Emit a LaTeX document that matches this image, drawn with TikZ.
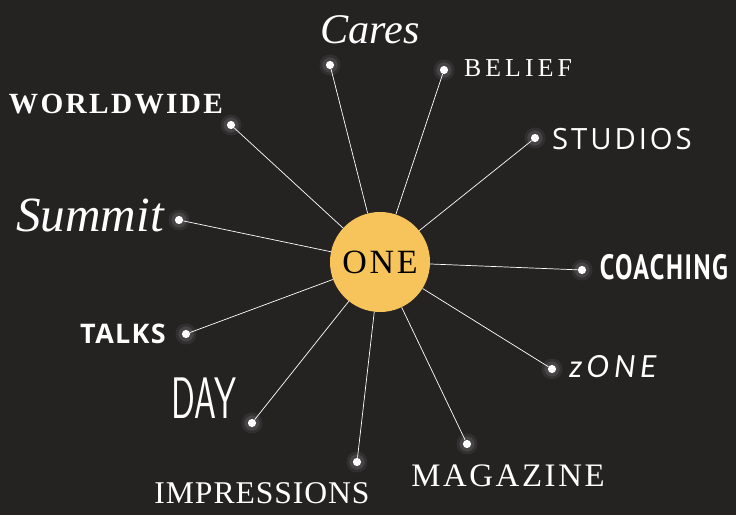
\documentclass[tikz,border=0pt]{standalone}
\usepackage{fontspec}
\setmainfont{Liberation Serif}
\newfontfamily\wideserif[LetterSpace=8]{Liberation Serif}
\newfontfamily\widerserif[LetterSpace=16]{Liberation Serif}
\newfontfamily\lightsans[LetterSpace=10]{Open Sans}
\newfontfamily\plainsans[LetterSpace=5]{Open Sans}
\newfontfamily\slabsans[LetterSpace=6]{PT Sans}
\newfontfamily\italsans[LetterSpace=15]{Lato}
\usetikzlibrary{positioning}

\definecolor{bg}{HTML}{252222}
\definecolor{sun}{HTML}{F6C45A}

\tikzset{
  dot/.style={circle, fill=white, inner sep=0pt, minimum size=7pt},
  spoke/.style={white, line width=0.6pt},
  word/.style={text=white, inner sep=0pt, anchor=center},
}

\newcommand{\fsz}[1]{\fontsize{#1}{#1}\selectfont}

\begin{document}
\begin{tikzpicture}[x=0.03cm,y=-0.03cm]
\fill[bg] (0,0) rectangle (736,515);
\useasboundingbox (0,0) rectangle (736,515);

% centre
\node[circle, fill=sun, minimum size=3cm, inner sep=0pt] (one) at (380,262)
  {\wideserif\fsz{29}ONE};

% dots and spokes
\foreach \n/\x/\y in {cares/330/65, belief/444/70, studios/535/138,
    coaching/582/270, zone/552/369, magazine/467/444, impressions/357/462,
    day/252/423, talks/186/334, summit/179/220, worldwide/231/125} {
  \fill[white, opacity=0.06] (\x,\y) circle (9pt);
  \fill[white, opacity=0.10] (\x,\y) circle (6.5pt);
  \node[dot] (\n) at (\x,\y) {};
  \draw[spoke] (one) -- (\n);
}

% labels
\node[word] (caresl) at (370,30) {\itshape\fsz{36}Cares};
\node[word] (beliefl) at (518,68) {\widerserif\fsz{22}BELIEF};
\node[word] (studiosl) at (622,139) {\lightsans\fsz{25}STUDIOS};
\node[word] (coachingl) at (664,267) {\scalebox{0.74}[1]{\slabsans\bfseries\fsz{30}COACHING}};
\node[word] (zonel) at (613,367) {\italsans\itshape\fsz{26}zONE};
\node[word] (magazinel) at (508,476) {\wideserif\fsz{28}MAGAZINE};
\node[word] (impressionsl) at (262,493) {\fontspec[LetterSpace=3]{Liberation Serif}\fsz{27}IMPRESSIONS};
\node[word] (dayl) at (204,398) {\scalebox{0.6}[1]{\sffamily\fsz{50}DAY}};
\node[word] (talksl) at (123,334) {\plainsans\bfseries\fsz{23}TALKS};
\node[word] (summitl) at (90,215) {\itshape\fsz{42}Summit};
\node[word] (worldwidel) at (116,104) {\wideserif\bfseries\fsz{25}WORLDWIDE};
\end{tikzpicture}
\end{document}
